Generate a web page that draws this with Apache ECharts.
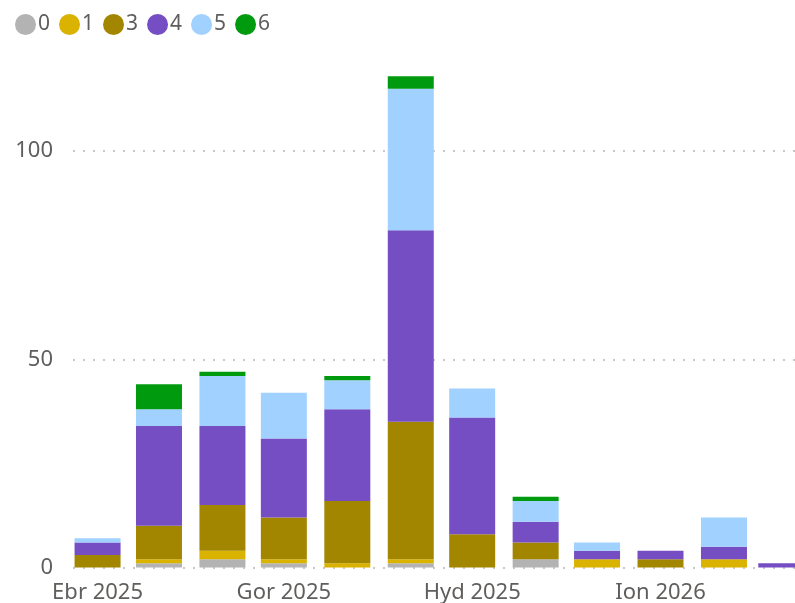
<!DOCTYPE html>
<html>
<head>
<meta charset="utf-8">
<style>
  html, body { margin: 0; padding: 0; background: #fff; }
  #chart { width: 795px; height: 603px; }
</style>
<script src="https://cdn.jsdelivr.net/npm/echarts@6/dist/echarts.min.js"></script>
</head>
<body>
<div id="chart"></div>
<script>
// Monthly counts per group, stacked bottom to top: 0, 1, 3, 4, 5, 6
const months = ['2025-04-01', '2025-05-01', '2025-06-01', '2025-07-01', '2025-08-01', '2025-09-01',
                '2025-10-01', '2025-11-01', '2025-12-01', '2026-01-01', '2026-02-01', '2026-03-01'];
const groupNames = ['0', '1', '3', '4', '5', '6'];
const group0 = [0, 1, 2, 1, 0, 1, 0, 2, 0, 0, 0, 0];
const group1 = [0, 1, 2, 1, 1, 1, 0, 0, 2, 0, 2, 0];
const group3 = [3, 8, 11, 10, 15, 33, 8, 4, 0, 2, 0, 0];
const group4 = [3, 24, 19, 19, 22, 46, 28, 5, 2, 2, 3, 1];
const group5 = [1, 4, 12, 11, 7, 34, 7, 5, 2, 0, 7, 0];
const group6 = [0, 6, 1, 0, 1, 3, 0, 1, 0, 0, 0, 0];
const groupValues = [group0, group1, group3, group4, group5, group6];
const groupColors = ['#B3B3B3', '#D9B300', '#A38600', '#744EC2', '#A0D1FF', '#009A0F'];

// Welsh month labels along the date axis
const tickDates = ['2025-04-01', '2025-07-01', '2025-10-01', '2026-01-01'];
const tickLabels = ['Ebr 2025', 'Gor 2025', 'Hyd 2025', 'Ion 2026'];

const FONT = '"Noto Sans", "Open Sans", sans-serif';
const WIDTH = 795;
const GRID_LEFT = 73;
const GRID_RIGHT = -17;
const BAR_WIDTH = 46;

const toTime = s => new Date(s + 'T00:00:00Z').getTime();
const tickTimes = tickDates.map(toTime);
const xMin = toTime('2025-03-20');
const xMax = toTime('2026-03-16');

// ECharts widens a bar-carrying time axis by one bar width; pre-shrink the
// range so the final span is exactly xMin..xMax, shared with the label axis.
const axisLen = WIDTH - GRID_LEFT - GRID_RIGHT;
const pad = (xMax - xMin) * (BAR_WIDTH / axisLen) / 2;

const chart = echarts.init(document.getElementById('chart'), null, { renderer: 'canvas' });

chart.setOption({
  animation: false,
  textStyle: { fontFamily: FONT },
  legend: {
    left: 10,
    top: 9,
    icon: 'circle',
    itemWidth: 21,
    itemHeight: 21,
    itemGap: 9,
    data: groupNames,
    textStyle: { fontSize: 21, color: '#605E5C', fontFamily: FONT, padding: [0, 0, 0, -3] }
  },
  grid: { left: GRID_LEFT, right: GRID_RIGHT, top: -57, bottom: 35.5, containLabel: false, outerBoundsMode: 'none' },
  xAxis: [
    {
      // calendar axis carrying the bars
      type: 'time',
      position: 'bottom',
      min: xMin + pad,
      max: xMax - pad,
      axisLine: { show: false },
      axisTick: { show: false },
      splitLine: { show: false },
      axisLabel: { show: false }
    },
    {
      // same span, used only for the quarter labels
      type: 'value',
      position: 'bottom',
      min: xMin,
      max: xMax,
      axisLine: { show: false },
      axisTick: { show: false },
      splitLine: { show: false },
      axisLabel: {
        customValues: tickTimes,
        fontSize: 22,
        color: '#605E5C',
        margin: 14,
        hideOverlap: false,
        formatter: function (v) {
          const i = tickTimes.indexOf(v);
          return i >= 0 ? tickLabels[i] : '';
        }
      }
    }
  ],
  yAxis: {
    type: 'value',
    min: 0,
    max: 150,
    interval: 50,
    axisLine: { show: false },
    axisTick: { show: false },
    axisLabel: { fontSize: 22, color: '#605E5C', margin: 20, padding: [3, 0, 0, 0] },
    splitLine: { lineStyle: { color: '#C8C8C8', width: 2, type: [2, 8] } }
  },
  series: groupNames.map((name, k) => ({
    name: name,
    type: 'bar',
    stack: 'total',
    xAxisIndex: 0,
    barWidth: BAR_WIDTH,
    itemStyle: { color: groupColors[k] },
    data: months.map((m, i) => [toTime(m), groupValues[k][i]])
  }))
});
</script>
</body>
</html>
